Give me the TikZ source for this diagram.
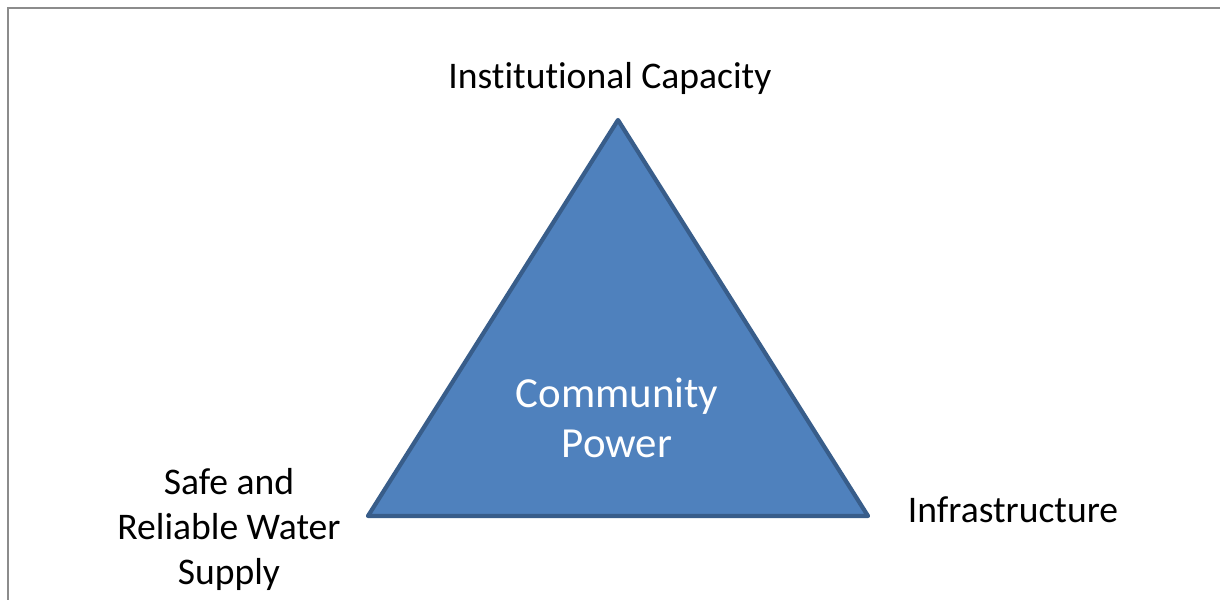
\documentclass[tikz,border=0pt]{standalone}
\usepackage{fontspec}
\setmainfont[Ligatures=NoCommon]{Carlito}
\usepackage{tikz}
\definecolor{triblue}{HTML}{4F81BD}
\definecolor{triedge}{HTML}{385D8A}
\definecolor{frame}{HTML}{8C8C8C}
\tikzset{
    label/.style={font=\fontsize{10.7}{12.8}\selectfont, align=center, text=black},
    inner/.style={font=\fontsize{12.2}{14.2}\selectfont, align=center, text=white}
}

\begin{document}
\begin{tikzpicture}
        \useasboundingbox (0,0) rectangle (12.2,6);
        \draw[frame, line width=0.8pt] (0.08,0) -- (0.08,5.92) -- (12.2,5.92);
        \coordinate (top) at (6.18,4.80);
        \coordinate (left) at (3.68,0.84);
        \coordinate (right) at (8.68,0.84);
        \draw[fill=triblue, draw=triedge, line width=1.2pt, line join=round] (top) -- (right) -- (left) -- cycle;
        \node[inner] (power) at (6.17,1.82) {Community\\Power};
        \node[label] (inst) at (6.10,5.22) {Institutional Capacity};
        \node[label] (water) at (2.29,0.71) {Safe and\\Reliable Water\\Supply};
        \node[label] (infra) at (10.13,0.90) {Infrastructure};
    \end{tikzpicture}
\end{document}
